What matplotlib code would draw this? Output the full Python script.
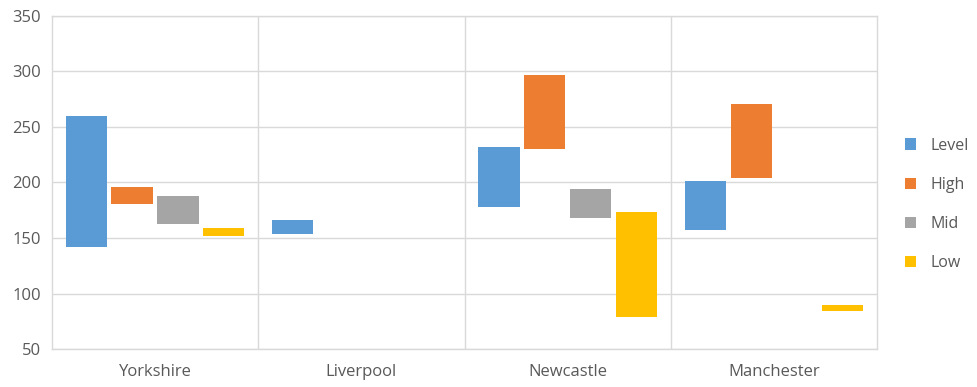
import matplotlib.pyplot as plt
import numpy as np

plt.rcParams['font.family'] = ['Open Sans', 'DejaVu Sans']

cities = ['Yorkshire', 'Liverpool', 'Newcastle', 'Manchester']
series = ['Level', 'High', 'Mid', 'Low']
colors = ['#5B9BD5', '#ED7D31', '#A5A5A5', '#FFC000']

# (bottom, top) of each floating bar, per series, per city; nan = no bar
low_ends = {
    'Level': [142, 154, 178, 157],
    'High':  [181, np.nan, 230, 204],
    'Mid':   [163, np.nan, 168, np.nan],
    'Low':   [152, np.nan, 79, 84],
}
high_ends = {
    'Level': [260, 166, 232, 201],
    'High':  [196, np.nan, 297, 271],
    'Mid':   [188, np.nan, 194, np.nan],
    'Low':   [159, np.nan, 173, 90],
}

fig = plt.figure(figsize=(9.78, 3.87), dpi=100)
ax = fig.add_axes([0.053, 0.098, 0.844, 0.861])

x = np.arange(len(cities))
slot = 0.222
width = 0.2
for k, (name, col) in enumerate(zip(series, colors)):
    lo = np.array(low_ends[name], dtype=float)
    hi = np.array(high_ends[name], dtype=float)
    ax.bar(x + (k - 1.5) * slot, hi - lo, bottom=lo, width=width,
           color=col, label=name, zorder=3)

ax.set_xlim(-0.5, len(cities) - 0.5)
ax.set_ylim(50, 350)
ax.set_yticks(range(50, 351, 50))
ax.set_xticks(x)
ax.set_xticklabels(cities)

grid_col = '#D9D9D9'
ax.yaxis.grid(True, color=grid_col, linewidth=1, zorder=0)
for b in x[:-1] + 0.5:
    ax.axvline(b, color=grid_col, linewidth=1, zorder=0)
for s in ax.spines.values():
    s.set_color(grid_col)
    s.set_linewidth(1)

ax.tick_params(axis='both', length=0, colors='#595959', labelsize=12)
ax.tick_params(axis='y', pad=8)
ax.tick_params(axis='x', pad=11)

ax.legend(loc='center left', bbox_to_anchor=(0.925, 0.472), bbox_transform=fig.transFigure,
          frameon=False, fontsize=11.5, labelcolor='#595959', borderaxespad=0, borderpad=0,
          handlelength=0.7, handleheight=0.7, handletextpad=0.9, labelspacing=1.45)

fig.savefig('out.png', dpi=100)
